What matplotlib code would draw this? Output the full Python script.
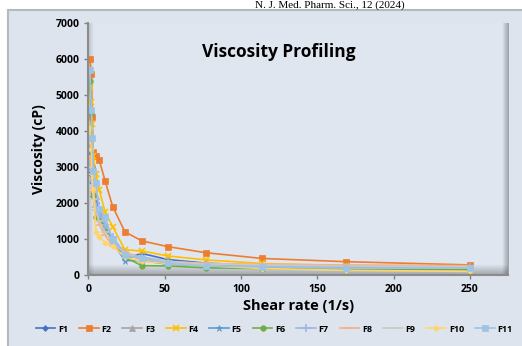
import numpy as np
import matplotlib.pyplot as plt
from matplotlib.patches import Rectangle

plt.rcParams['font.family'] = ['Open Sans', 'DejaVu Sans']

# shear rate (1/s), same for every formulation
shear = [1, 2, 2.6, 3.3, 5, 7.2, 11, 16, 24, 35, 52, 77, 114, 169, 250]

F1 = [2900, 2800, 2600, 2300, 2000, 1600, 1300, 950, 450, 600, 430, 330, 260, 230, 200]
F2 = [6000, 5600, 4400, 3420, 3300, 3190, 2620, 1900, 1200, 950, 790, 620, 460, 370, 280]
F3 = [3600, 3400, 3000, 2600, 2200, 1800, 1400, 1000, 550, 450, 350, 280, 250, 220, 190]
F4 = [5200, 4800, 4200, 3300, 2800, 2360, 1760, 1340, 700, 670, 530, 420, 320, 260, 200]
F5 = [3400, 3000, 2700, 2400, 2000, 1700, 1350, 900, 400, 400, 300, 260, 230, 200, 180]
F6 = [5400, 4500, 3000, 2200, 1600, 1550, 1300, 850, 500, 260, 250, 200, 180, 160, 150]
F7 = [3100, 2900, 2600, 2300, 1900, 1700, 1400, 1050, 600, 500, 380, 300, 260, 230, 210]
F8 = [3300, 3000, 2700, 2300, 1800, 1400, 1100, 800, 650, 450, 380, 320, 300, 280, 260]
F9 = [3000, 2800, 2500, 2100, 1800, 1500, 1200, 900, 600, 450, 370, 310, 280, 250, 230]
F10 = [4100, 3500, 2800, 2400, 1200, 1050, 900, 800, 500, 380, 320, 260, 180, 130, 100]
F11 = [5700, 4600, 3800, 2900, 2550, 1830, 1620, 970, 550, 470, 330, 250, 230, 190, 190]

names = ['F1', 'F2', 'F3', 'F4', 'F5', 'F6', 'F7', 'F8', 'F9', 'F10', 'F11']
series = [F1, F2, F3, F4, F5, F6, F7, F8, F9, F10, F11]
colores = ['#4472C4', '#ED7D31', '#A5A5A5', '#FFC000', '#5B9BD5', '#70AD47',
           '#9EB5E5', '#F4B183', '#C9C9C9', '#FFD56A', '#9DC3E6']
marcas = ['D', 's', '^', 'x', '*', 'o', '+', '_', '_', 'D', 's']
tam = [3, 5, 4, 5, 5, 4, 6, 6, 6, 3, 5]

fig = plt.figure(figsize=(5.22, 3.46), dpi=100)
fig.patch.set_facecolor('white')

# fondo del grafico tipo Excel
fig.patches.append(Rectangle((8 / 522, -0.1), 1, 1.1 - 10 / 346, transform=fig.transFigure,
                             facecolor='#dde4ed', edgecolor='#b4b9bf', linewidth=1.5, zorder=-10))
fig.text(255 / 522, 1.0, 'N. J. Med. Pharm. Sci., 12 (2024)', family='Liberation Serif',
         fontsize=8, ha='left', va='top')

ax = fig.add_axes([88.3 / 522, 1 - 275 / 346, (508 - 88.3) / 522, 251.7 / 346])
ax.set_facecolor('#e0e6ef')


def sombra(alfa_max, vertical, invertir):
    a = np.linspace(0, alfa_max, 40)
    if invertir:
        a = a[::-1]
    img = np.zeros((40, 1, 4)) if vertical else np.zeros((1, 40, 4))
    img[..., 3] = a.reshape(img.shape[:2])
    return img


# piso y paredes con degradado suave
ax.imshow(sombra(0.28, True, False), extent=[0, 1, 0, 0.04], transform=ax.transAxes,
          aspect='auto', zorder=0.5)
ax.imshow(sombra(0.18, False, True), extent=[0, 0.012, 0, 1], transform=ax.transAxes,
          aspect='auto', zorder=0.5)
ax.imshow(sombra(0.3, False, False), extent=[0.985, 1, 0, 1], transform=ax.transAxes,
          aspect='auto', zorder=0.5)

for nombre, valores, c, m, s in zip(names, series, colores, marcas, tam):
    ax.plot(shear, valores, color=c, marker=m, markersize=s, linewidth=1.2,
            markeredgewidth=1.2 if m in ('x', '+', '_') else 0.5, label=nombre, zorder=2)

ax.set_xlim(0, 275)
ax.set_ylim(0, 7000)
ax.set_xticks([0, 50, 100, 150, 200, 250])
ax.set_yticks(range(0, 7001, 1000))
ax.tick_params(labelsize=7.5, length=3, color='#808080', width=1)
for t in ax.get_xticklabels() + ax.get_yticklabels():
    t.set_fontweight('bold')
for lado in ['top', 'right']:
    ax.spines[lado].set_visible(False)
ax.spines['left'].set_color('#8c8c8c')
ax.spines['bottom'].set_color('#8c8c8c')
ax.spines['left'].set_linewidth(1.5)
ax.spines['bottom'].set_linewidth(1.5)

ax.text(0.455, 0.886, 'Viscosity Profiling', transform=ax.transAxes, ha='center',
        va='center', fontsize=12.5, fontweight='bold')
ax.set_xlabel('Shear rate (1/s)', fontsize=10.5, fontweight='bold', labelpad=3)
ax.set_ylabel('Viscosity (cP)', fontsize=10, fontweight='bold', labelpad=7)

fig.legend(loc='center', bbox_to_anchor=(0.525, 1 - 329 / 346), ncol=11, frameon=False,
           handlelength=2.2, handletextpad=0.3, columnspacing=1.2,
           prop={'weight': 'bold', 'size': 6.5})

fig.savefig('out.png', dpi=100, facecolor=fig.get_facecolor())
